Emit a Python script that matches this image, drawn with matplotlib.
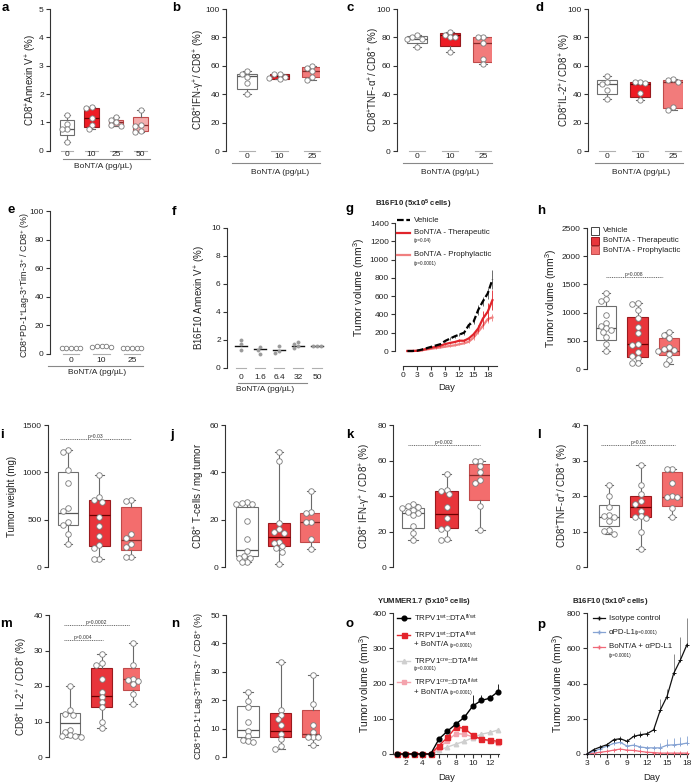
import numpy as np
import matplotlib
matplotlib.use('Agg')
import matplotlib.pyplot as plt
from matplotlib.lines import Line2D
from matplotlib.patches import Rectangle

W, H = 692, 782
plt.rcParams['font.family'] = ['Liberation Sans', 'DejaVu Sans']
plt.rcParams['mathtext.fontset'] = 'custom'
plt.rcParams['mathtext.rm'] = 'Liberation Sans'
plt.rcParams['mathtext.it'] = 'Liberation Sans:italic'
plt.rcParams['mathtext.bf'] = 'Liberation Sans:bold'
plt.rcParams['mathtext.default'] = 'regular'

# ---------------- DATA ----------------
bont_cats3 = ['0', '10', '25']
bont_cats_a = ['0', '10', '25', '50']
bont_cats_f = ['0', '1.6', '6.4', '32', '50']

a_q1 = [0.55, 0.85, 0.88, 0.68]
a_med = [0.75, 1.15, 1.0, 0.9]
a_q3 = [1.08, 1.5, 1.1, 1.18]
a_lo = [0.3, 0.75, 0.88, 0.65]
a_hi = [1.25, 1.55, 1.2, 1.42]
a_pts = [[1.25, 0.95, 0.78, 0.78, 0.3], [1.55, 1.52, 1.15, 0.9, 0.75],
         [1.2, 1.1, 1.0, 0.9, 0.88], [1.42, 0.92, 0.88, 0.68, 0.65]]

b_q1 = [44, 51, 52]
b_med = [53, 52.5, 56]
b_q3 = [54, 54, 59]
b_lo = [40, 51, 50]
b_hi = [56, 54.5, 60]
b_pts = [[56, 54.5, 52, 48, 40], [54.5, 54, 52, 51.5, 51], [60, 58.5, 56, 52, 50]]

c_q1 = [76, 74, 63]
c_med = [79, 82, 76]
c_q3 = [81, 83, 80]
c_lo = [73.5, 70, 61]
c_hi = [81.5, 84, 80.5]
c_pts = [[81.5, 80.5, 79, 79, 73.5], [84, 82, 80, 80, 70], [80.5, 80, 76, 65, 61]]

d_q1 = [40, 38, 30.2]
d_med = [47.5, 47.5, 48.7]
d_q3 = [50, 48.7, 50]
d_lo = [36.9, 35.8, 29.2]
d_hi = [52.7, 48.7, 50.5]
d_pts = [[52.7, 48.5, 47.5, 42.8, 36.9], [48.7, 48.5, 48.2, 40.5, 35.8],
         [50.5, 50.2, 48.7, 31.0, 29.2]]

e_pts = [[4.5, 4.5, 4.5, 4.5, 4.0], [5.0, 5.5, 5.5, 5.5, 5.0], [4.0, 4.0, 4.0, 4.0, 4.0]]

f_med = [1.6, 1.35, 1.3, 1.6, 1.6]
f_pts = [[2.0, 1.7, 1.3], [1.5, 1.3, 1.0], [1.6, 1.2, 1.1], [1.85, 1.7, 1.55, 1.4], [1.6, 1.6, 1.55]]

g_days = list(range(1, 20))
g_vehicle = [0, 0, 3, 15, 30, 45, 60, 75, 110, 135, 160, 180, 200, 284, 320, 450, 545, 629, 782]
g_vehicle_err = [0, 0, 2, 5, 6, 8, 10, 12, 15, 15, 18, 20, 22, 30, 30, 55, 50, 60, 100]
g_ther = [0, 0, 2, 10, 22, 35, 45, 58, 76, 88, 98, 113, 112, 138, 182, 247, 356, 429, 556]
g_ther_err = [0, 0, 2, 4, 5, 6, 8, 10, 12, 12, 14, 15, 15, 20, 25, 40, 80, 100, 110]
g_proph = [0, 0, 2, 8, 16, 24, 32, 38, 47, 55, 62, 74, 84, 102, 145, 211, 276, 349, 367]
g_proph_err = [0, 0, 1, 3, 4, 5, 6, 8, 8, 10, 10, 12, 12, 15, 20, 30, 40, 45, 40]

groups3 = ['Vehicle', 'BoNT/A - Therapeutic', 'BoNT/A - Prophylactic']
h_q1 = [520, 220, 250]
h_med = [720, 440, 320]
h_q3 = [1120, 920, 550]
h_lo = [320, 100, 85]
h_hi = [1340, 1170, 660]
h_pts = [[1340, 1250, 1200, 950, 820, 760, 730, 700, 650, 560, 450, 320],
         [1170, 1160, 1050, 900, 750, 630, 450, 430, 300, 230, 200, 100, 100],
         [660, 600, 550, 390, 360, 340, 320, 270, 160, 85]]

i_q1 = [440, 220, 180]
i_med = [570, 545, 285]
i_q3 = [1000, 710, 635]
i_lo = [245, 81, 105]
i_hi = [1240, 970, 710]
i_pts = [[1240, 1210, 1020, 890, 620, 590, 480, 440, 350, 245],
         [970, 740, 705, 690, 530, 430, 330, 230, 205, 88, 81],
         [710, 700, 350, 310, 240, 210, 105, 105]]

j_q1 = [4.5, 9.0, 10.5]
j_med = [7.0, 12.8, 19.0]
j_q3 = [25.5, 18.5, 23.0]
j_lo = [2.0, 1.3, 7.6]
j_hi = [27.5, 48.5, 32.3]
j_pts = [[27.5, 27.0, 26.5, 26.5, 19.5, 11.7, 6.6, 4.7, 4.0, 3.8, 2.2, 2.0],
         [48.5, 44.7, 18.7, 16.0, 14.9, 14.5, 10.7, 10.0, 9.0, 8.0, 6.5, 1.3],
         [32.3, 23.2, 23.0, 19.2, 19.0, 11.8, 7.6]]

k_q1 = [22, 22, 37.5]
k_med = [30.5, 30, 52]
k_q3 = [33.5, 43, 58]
k_lo = [15.4, 15.0, 21.0]
k_hi = [35.5, 52.6, 59.9]
k_pts = [[35.5, 34.5, 33.8, 33.5, 32.3, 31, 30.4, 29.5, 23, 19.2, 15.4],
         [52.6, 43.6, 43.0, 41.3, 33.6, 27.6, 21.8, 21.4, 15.8, 15.0],
         [59.9, 59.5, 56.7, 53.3, 49.2, 47.3, 34.2, 21.0]]

l_q1 = [11.5, 14.1, 17.2]
l_med = [14.2, 16.8, 19.7]
l_q3 = [17.5, 20.0, 26.7]
l_lo = [9.4, 5.1, 14.0]
l_hi = [23.2, 28.8, 27.7]
l_pts = [[23.2, 19.9, 16.8, 14.6, 14.3, 14.1, 12.9, 10.5, 10.2, 9.4],
         [28.8, 23.2, 20.7, 18.5, 17.8, 15.9, 14.4, 14.1, 13.8, 10.0, 5.1],
         [27.7, 27.6, 23.8, 19.9, 19.7, 19.6, 16.6, 14.0]]

m_q1 = [6.5, 14.2, 19.0]
m_med = [9.5, 17.2, 22.0]
m_q3 = [12.5, 25.0, 25.0]
m_lo = [5.6, 8.2, 15.0]
m_hi = [20.0, 28.9, 32.1]
m_pts = [[20, 13.1, 12.0, 11.9, 7.7, 7.0, 6.3, 5.9, 5.8, 5.6],
         [28.9, 26.6, 25.8, 21.9, 18.3, 16.9, 15.5, 14.1, 9.9, 8.2],
         [32.1, 26.0, 21.9, 21.8, 21.5, 20.5, 17.8, 15.0]]

n_q1 = [7.0, 7.0, 7.0]
n_med = [9.4, 9.3, 8.0]
n_q3 = [17.8, 15.5, 16.7]
n_lo = [5.3, 2.7, 4.1]
n_hi = [22.9, 33.3, 28.8]
n_pts = [[22.9, 19.6, 17.6, 12.4, 9.1, 7.4, 6.1, 5.5, 5.3],
         [33.3, 16.5, 14.7, 13.3, 11.4, 8.2, 6.2, 3.8, 2.7],
         [28.8, 18.6, 11.2, 8.8, 7.1, 7.0, 6.9, 4.1]]

o_days = list(range(1, 14))
o_wt = [0, 0, 0, 0, 0, 43, 65, 85, 104, 136, 152, 158, 177]
o_wt_err = [0, 0, 0, 0, 0, 5, 6, 6, 8, 30, 15, 10, 22]
o_wt_bont = [0, 0, 0, 0, 0, 24, 47, 76, 73, 53, 42, 39, 36]
o_wt_bont_err = [0, 0, 0, 0, 0, 4, 5, 6, 6, 6, 5, 4, 5]
o_cre = [0, 0, 0, 0, 0, 10, 20, 28, 36, 46, 56, 61, 68]
o_cre_err = [0, 0, 0, 0, 0, 3, 4, 5, 5, 6, 6, 6, 7]
o_cre_bont = [0, 0, 0, 0, 0, 18, 38, 58, 56, 49, 42, 36, 31]
o_cre_bont_err = [0, 0, 0, 0, 0, 3, 4, 5, 5, 5, 5, 4, 4]

p_days = list(range(3, 19))
p_iso = [0, 25, 40, 53, 81, 87, 72, 100, 109, 115, 137, 250, 326, 457, 533, 621]
p_iso_err = [0, 5, 8, 10, 12, 15, 15, 20, 20, 18, 15, 60, 40, 110, 130, 150]
p_pdl1 = [0, 15, 30, 45, 60, 66, 45, 50, 40, 35, 35, 35, 50, 52, 55, 62]
p_pdl1_err = [0, 5, 8, 10, 12, 12, 12, 12, 10, 10, 10, 30, 35, 40, 40, 40]
p_combo = [0, 5, 10, 15, 22, 28, 22, 20, 15, 10, 8, 5, 5, 5, 5, 5]
p_combo_err = [0, 2, 3, 4, 5, 5, 5, 5, 4, 3, 3, 3, 3, 3, 3, 3]

# ---------------- STYLE ----------------
WHITE = '#ffffff'
RED = '#ee1c25'
RED2 = '#e8353b'
LRED = '#f27b7b'
LRED2 = '#f36d6d'
PINK = '#f3a3a8'
PINK2 = '#f4adad'
EDGE_W = '#6e6e6e'
EDGE_R = '#9a1a1e'
EDGE_L = '#c04a4a'
LEG_FS = 5.7
TICK_FS = 6.0

fig = plt.figure(figsize=(W / 100, H / 100), dpi=100)


def ptext(x, y, s, **kw):
    kw.setdefault('color', '#222')
    return fig.text(x / W, 1 - y / H, s, **kw)


def pline(xs, ys, **kw):
    ln = Line2D(np.asarray(xs, float) / W, 1 - np.asarray(ys, float) / H, transform=fig.transFigure, **kw)
    fig.add_artist(ln)
    return ln


def add_ax(L, top, zero, R):
    ax = fig.add_axes([L / W, 1 - zero / H, (R - L) / W, (zero - top) / H])
    ax.patch.set_alpha(0)
    for sp in ['top', 'right']:
        ax.spines[sp].set_visible(False)
    ax.spines['left'].set_color('#333')
    ax.spines['left'].set_linewidth(0.8)
    ax.spines['bottom'].set_color('#333')
    ax.spines['bottom'].set_linewidth(0.8)
    ax.tick_params(axis='both', length=3, width=0.8, labelsize=TICK_FS, pad=1.5, colors='#333', labelcolor='#222')
    return ax


def swarm(vals, ppu_y, ppu_x, d):
    vals = np.asarray(vals, float)
    order = np.argsort(-vals, kind='stable')
    placed = []
    offs = np.zeros(len(vals))
    cands = [0.0]
    for j in range(1, 12):
        cands += [-0.5 * j, 0.5 * j]
    for i in order:
        y = vals[i] * ppu_y
        xsel = 0.0
        for c in cands:
            x = c * d
            if all((x - px) ** 2 + (y - py) ** 2 >= (0.9 * d) ** 2 for px, py in placed):
                xsel = x
                break
        placed.append((xsel, y))
        offs[i] = xsel / ppu_x
    return offs


def plot_points(ax, pts, ppu_y, s, ms=4.0, mfc='white', mec='#7a7a7a', dfac=0.95):
    for i, p in enumerate(pts):
        p = np.asarray(p, float)
        off = swarm(p, ppu_y, s, ms * 1.389 * dfac)
        ax.plot(i + off, p, ls='none', marker='o', ms=ms, mfc=mfc, mec=mec, mew=0.6,
                clip_on=False, zorder=5)


def box_panel(L, top, zero, R, c0, s, ymax, yticks, q1, med, q3, lo, hi, pts,
              faces, edges, meds, width=0.62, ms=4.0):
    ax = add_ax(L, top, zero, R)
    n = len(q1)
    stats = [dict(q1=q1[i], med=med[i], q3=q3[i], whislo=lo[i], whishi=hi[i], fliers=[]) for i in range(n)]
    bp = ax.bxp(stats, positions=list(range(n)), widths=width, patch_artist=True, showfliers=False,
                capwidths=width * 0.42, manage_ticks=False,
                whiskerprops=dict(color='#6a6a6a', lw=0.8), capprops=dict(color='#6a6a6a', lw=0.8),
                boxprops=dict(lw=0.8), medianprops=dict(lw=0.9))
    for i, b in enumerate(bp['boxes']):
        b.set_facecolor(faces[i])
        b.set_edgecolor(edges[i])
    for i, m in enumerate(bp['medians']):
        m.set_color(meds[i])
    ax.set_xlim(-(c0 - L) / s, (R - c0) / s)
    ax.set_ylim(0, ymax)
    ax.spines['bottom'].set_visible(False)
    ax.spines['left'].set_bounds(0, ymax)
    ax.set_xticks([])
    ax.set_yticks(yticks)
    plot_points(ax, pts, (zero - top) / ymax, s, ms=ms)
    return ax


def ylab(x, top, zero, s, fs=7):
    ptext(x, (top + zero) / 2, s, rotation=90, ha='center', va='center', fontsize=fs)


def cat_axis(ax, n, cats, c0, s, lab_y, br_x0, br_x1, br_y, title_x, title_y, seg=0.5):
    for i in range(n):
        ax.plot([i - seg / 2, i + seg / 2], [0, 0], color='#b0b0b0', lw=0.8, clip_on=False, zorder=1)
        ptext(c0 + i * s, lab_y, cats[i], ha='center', va='center', fontsize=6)
    pline([br_x0, br_x1], [br_y, br_y], color='#888', lw=0.8)
    ptext(title_x, title_y, 'BoNT/A (pg/µL)', ha='center', va='center', fontsize=6)


def sig(ax, x0, x1, y, txt):
    ax.plot([x0, x1], [y, y], color='#555', lw=0.6, ls=(0, (1.2, 1.0)), clip_on=False)
    ax.text((x0 + x1) / 2, y, txt, ha='center', va='bottom', fontsize=3.6, color='#333')


def letter(x, y, s):
    ptext(x, y, s, fontsize=9.5, fontweight='bold', ha='left', va='baseline', color='black')


# ---------------- ROW 1 ----------------
ax = box_panel(50, 9, 150.7, 150, 67, 24.5, 5, [0, 1, 2, 3, 4, 5], a_q1, a_med, a_q3, a_lo, a_hi, a_pts,
               [WHITE, RED, PINK, PINK2], [EDGE_W, EDGE_R, EDGE_L, EDGE_L], ['#555', '#6a0000', '#8a2a2a', '#8a2a2a'],
               width=0.6, ms=3.8)
cat_axis(ax, 4, bont_cats_a, 67, 24.5, 154, 63, 150, 158.5, 103, 167)
ylab(31, 9, 150.7, r'CD8$^{+}$Annexin V$^{+}$ (%)')
letter(2, 11, 'a')

ax = box_panel(226, 9, 151, 320, 247, 32.5, 100, [0, 20, 40, 60, 80, 100], b_q1, b_med, b_q3, b_lo, b_hi, b_pts,
               [WHITE, RED, LRED], [EDGE_W, EDGE_R, EDGE_L], ['#555', '#6a0000', '#8a2a2a'], width=0.6, ms=3.8)
cat_axis(ax, 3, bont_cats3, 247, 32.5, 157, 232, 320, 163, 280, 172)
ylab(199, 9, 151, r'CD8$^{+}$IFN-γ$^{+}$/ CD8$^{+}$ (%)')
letter(172, 11, 'b')

ax = box_panel(397, 9, 151, 492, 417, 33, 100, [0, 20, 40, 60, 80, 100], c_q1, c_med, c_q3, c_lo, c_hi, c_pts,
               [WHITE, RED, LRED], [EDGE_W, EDGE_R, EDGE_L], ['#555', '#6a0000', '#8a2a2a'], width=0.6, ms=3.8)
cat_axis(ax, 3, bont_cats3, 417, 33, 157, 403, 492, 163, 450, 172)
ylab(374, 9, 151, r'CD8$^{+}$TNF-α$^{+}$/ CD8$^{+}$ (%)')
letter(347, 11, 'c')

ax = box_panel(588, 9, 151, 683, 607, 33, 100, [0, 20, 40, 60, 80, 100], d_q1, d_med, d_q3, d_lo, d_hi, d_pts,
               [WHITE, RED, LRED], [EDGE_W, EDGE_R, EDGE_L], ['#555', '#6a0000', '#8a2a2a'], width=0.6, ms=3.8)
cat_axis(ax, 3, bont_cats3, 607, 33, 157, 595, 683, 163, 641, 172)
ylab(565, 9, 151, r'CD8$^{+}$IL-2$^{+}$/ CD8$^{+}$ (%)')
letter(536, 11, 'd')

# ---------------- ROW 2 ----------------
L, top, zero, R, c0, s = 50, 211, 354, 145, 71, 30.5
ax = add_ax(L, top, zero, R)
ax.set_xlim(-(c0 - L) / s, (R - c0) / s)
ax.set_ylim(0, 100)
ax.spines['bottom'].set_visible(False)
ax.set_xticks([])
ax.set_yticks([0, 20, 40, 60, 80, 100])
plot_points(ax, e_pts, (zero - top) / 100, s, ms=3.3, dfac=1.0)
cat_axis(ax, 3, bont_cats3, c0, s, 361, 48, 143, 365.5, 97, 372, seg=0.55)
ylab(25, top + 4, zero, r'CD8$^{+}$PD-1$^{+}$Lag-3$^{+}$Tim-3$^{+}$ / CD8$^{+}$ (%)', fs=6.4)
letter(7, 213, 'e')

L, top, zero, R, c0, s = 227, 228, 368, 325, 241, 19
ax = add_ax(L, top, zero, R)
ax.set_xlim(-(c0 - L) / s, (R - c0) / s)
ax.set_ylim(0, 10)
ax.spines['bottom'].set_visible(False)
ax.set_xticks([])
ax.set_yticks([0, 2, 4, 6, 8, 10])
for i, mv in enumerate(f_med):
    ax.plot([i - 0.33, i + 0.33], [mv, mv], color='#111', lw=1.0, zorder=4)
plot_points(ax, f_pts, (zero - top) / 10, s, ms=2.2, mfc='#9a9a9a', mec='#9a9a9a', dfac=1.2)
cat_axis(ax, 5, bont_cats_f, c0, s, 377.5, 238, 307, 383, 265, 389, seg=0.55)
ylab(200, top, zero, r'B16F10 Annexin V$^{+}$ (%)')
letter(172, 215, 'f')

# g
L, top, zero = 395, 223, 351
d0, ppd = 402.7, 85 / 18
xl0, xl1 = -(d0 - L) / ppd, 20.0
R = d0 + xl1 * ppd
ax = add_ax(L, top, zero, R)
ax.set_xlim(xl0, xl1)
ax.set_ylim(0, 1400)
ax.spines['left'].set_bounds(0, 1400)
ax.spines['bottom'].set_position(('outward', 15 / 1.389))
ax.spines['bottom'].set_bounds(0, 19.9)
ax.set_xticks([0, 3, 6, 9, 12, 15, 18])
ax.set_yticks(range(0, 1401, 200))
ax.errorbar(g_days, g_proph, yerr=[g_proph_err, g_proph_err], color='#f07f7f', lw=1.6, elinewidth=0.6,
            capsize=0, clip_on=False, zorder=3)
ax.errorbar(g_days, g_ther, yerr=[g_ther_err, g_ther_err], color='#e0242b', lw=1.6, elinewidth=0.6,
            capsize=0, clip_on=False, zorder=4)
ax.errorbar(g_days, g_vehicle, yerr=[g_vehicle_err, g_vehicle_err], color='black', lw=1.6, elinewidth=0.6,
            ecolor='#555', capsize=0, clip_on=False, zorder=5, ls=(0, (3.0, 1.2)))
ptext(447, 388, 'Day', ha='center', va='center', fontsize=6.8)
ylab(359, top, zero, r'Tumor volume (mm$^{3}$)', fs=7.5)
ptext(375, 204, r'B16F10 (5x10$^{\bf 5}$ cells)', ha='left', va='center', fontsize=5.6, fontweight='bold')
pline([397, 410], [220, 220], color='black', lw=1.6, ls=(0, (3.0, 1.2)))
ptext(414, 220, 'Vehicle', ha='left', va='center', fontsize=LEG_FS)
pline([397, 410], [233, 233], color='#e0242b', lw=1.6)
ptext(414, 233, 'BoNT/A - Therapeutic', ha='left', va='center', fontsize=LEG_FS)
ptext(414, 241, '(p=0.04)', ha='left', va='center', fontsize=3.4)
pline([397, 410], [255, 255], color='#f07f7f', lw=1.6)
ptext(414, 255, 'BoNT/A - Prophylactic', ha='left', va='center', fontsize=LEG_FS)
ptext(414, 263, '(p=0.0001)', ha='left', va='center', fontsize=3.4)
letter(346, 212, 'g')

# h
L, top, zero, R, c0, s = 587, 228, 369, 685, 606, 31.5
ax = box_panel(L, top, zero, R, c0, s, 2500, range(0, 2501, 500), h_q1, h_med, h_q3, h_lo, h_hi, h_pts,
               [WHITE, RED2, LRED2], [EDGE_W, EDGE_R, EDGE_L], ['#555', '#6a0000', '#8a2a2a'], width=0.66)
sig(ax, 0, 1.8, 1630, 'p=0.008')
ylab(551, top, zero, r'Tumor volume (mm$^{3}$)', fs=7.5)
for yy, col, ec, lab in zip([231, 240.5, 250], [WHITE, RED2, LRED2], ['#444', EDGE_R, EDGE_L], groups3):
    fig.add_artist(Rectangle((591 / W, 1 - (yy + 4) / H), 8 / W, 8 / H, transform=fig.transFigure,
                             facecolor=col, edgecolor=ec, lw=0.7))
    ptext(603, yy, lab, ha='left', va='center', fontsize=LEG_FS)
letter(537, 214, 'h')

# ---------------- ROW 3 ----------------
cols3 = [WHITE, RED2, LRED2]
edges3 = [EDGE_W, EDGE_R, EDGE_L]
meds3 = ['#555', '#6a0000', '#8a2a2a']

ax = box_panel(48, 425, 567, 145, 68, 31.5, 1500, [0, 500, 1000, 1500], i_q1, i_med, i_q3, i_lo, i_hi, i_pts,
               cols3, edges3, meds3, width=0.66)
sig(ax, -0.25, 2.0, 1350, 'p=0.03')
ylab(12, 425, 567, 'Tumor weight (mg)')
letter(0, 438, 'i')

ax = box_panel(225, 425, 567, 320, 247, 32, 60, [0, 20, 40, 60], j_q1, j_med, j_q3, j_lo, j_hi, j_pts,
               cols3, edges3, meds3, width=0.66)
ylab(199, 425, 567, r'CD8$^{+}$ T-cells / mg tumor')
letter(170, 438, 'j')

ax = box_panel(393, 425, 567, 490, 413, 33.5, 80, [0, 20, 40, 60, 80], k_q1, k_med, k_q3, k_lo, k_hi, k_pts,
               cols3, edges3, meds3, width=0.66)
sig(ax, -0.15, 2.0, 68.7, 'p=0.002')
ylab(365, 425, 567, r'CD8$^{+}$ IFN-γ$^{+}$ / CD8$^{+}$ (%)')
letter(346, 438, 'k')

ax = box_panel(587, 425, 567, 685, 609, 31.5, 40, [0, 10, 20, 30, 40], l_q1, l_med, l_q3, l_lo, l_hi, l_pts,
               cols3, edges3, meds3, width=0.66)
sig(ax, -0.25, 2.1, 34.4, 'p=0.03')
ylab(563, 425, 567, r'CD8$^{+}$TNF-α$^{+}$/ CD8$^{+}$ (%)')
letter(537, 438, 'l')

# ---------------- ROW 4 ----------------
ax = box_panel(49, 615, 757, 140, 70, 31.5, 40, [0, 10, 20, 30, 40], m_q1, m_med, m_q3, m_lo, m_hi, m_pts,
               cols3, edges3, meds3, width=0.66)
sig(ax, -0.2, 1.9, 37.2, 'p=0.0002')
sig(ax, -0.2, 1.05, 33.0, 'p=0.004')
ylab(22, 615, 757, r'CD8$^{+}$ IL-2$^{+}$ / CD8$^{+}$ (%)')
letter(0, 627, 'm')

ax = box_panel(226, 615, 757, 320, 248, 32.5, 50, [0, 10, 20, 30, 40, 50], n_q1, n_med, n_q3, n_lo, n_hi, n_pts,
               cols3, edges3, meds3, width=0.66)
ylab(199, 615, 757, r'CD8$^{+}$PD-1$^{+}$Lag-3$^{+}$Tim-3$^{+}$ / CD8$^{+}$ (%)', fs=6.5)
letter(171, 627, 'n')

# o
L, top, zero = 393, 613, 754
d1, ppd = 397, (498 - 397) / 12
xl0, xl1 = 1 - (d1 - L) / ppd, 13.15
R = d1 + (xl1 - 1) * ppd
ax = add_ax(L, top, zero, R)
ax.set_xlim(xl0, xl1)
ax.set_ylim(0, 400)
ax.set_xticks([2, 4, 6, 8, 10, 12])
ax.set_xticks(range(1, 14), minor=True)
ax.tick_params(which='minor', length=2, width=0.7, color='#333')
ax.set_yticks([0, 100, 200, 300, 400])
z13 = np.zeros(len(o_days))
series_o = [(o_cre, o_cre_err, '#cfcfcf', '^', 3.2),
            (o_cre_bont, o_cre_bont_err, '#f4a3ad', 's', 3.0),
            (o_wt_bont, o_wt_bont_err, '#e3242b', 's', 3.6),
            (o_wt, o_wt_err, 'black', 'o', 3.4)]
for k, (yv, ye, col, mk, msz) in enumerate(series_o):
    ax.errorbar(o_days, yv, yerr=[z13, ye], color=col, lw=1.0, marker=mk, ms=msz, mec=col, elinewidth=0.6,
                capsize=0, clip_on=False, zorder=3 + k)
ptext(447, 777, 'Day', ha='center', va='center', fontsize=6.8)
ylab(365, top, zero, r'Tumor volume (mm$^{3}$)', fs=7.5)
ptext(377, 602, r'YUMMER1.7 (5x10$^{\bf 5}$ cells)', ha='left', va='center', fontsize=5.6, fontweight='bold')
leg_o = [(618, 'black', 'o', 3.4, r'TRPV1$^{wt}$::DTA$^{fl/wt}$', None, None),
         (635, '#e3242b', 's', 3.6, r'TRPV1$^{wt}$::DTA$^{fl/wt}$', '+ BoNT/A', '(p=0.0001)'),
         (661, '#cfcfcf', '^', 3.2, r'TRPV1$^{cre}$::DTA$^{fl/wt}$', '', '(p=0.0001)'),
         (682, '#f4a3ad', 's', 3.0, r'TRPV1$^{cre}$::DTA$^{fl/wt}$', '+ BoNT/A', '(p=0.0001)')]
for yy, col, mk, msz, lab, l2, pv in leg_o:
    pline([397, 403.5, 410], [yy, yy, yy], color=col, lw=1.0, marker=mk, ms=msz, markevery=[1], mec=col)
    ptext(414, yy, lab, ha='left', va='center', fontsize=LEG_FS)
    if l2:
        ptext(414, yy + 10, l2, ha='left', va='center', fontsize=LEG_FS)
        ptext(449.5, yy + 10.5, pv, ha='left', va='center', fontsize=3.4)
    elif pv:
        ptext(414, yy + 7.5, pv, ha='left', va='center', fontsize=3.4)
letter(346, 627, 'o')

# p
L, top, zero = 587, 613, 754
d3, ppd = 587, (687 - 587) / 15
xl0, xl1 = 3, 18.1
R = d3 + (xl1 - 3) * ppd
ax = add_ax(L, top, zero, R)
ax.set_xlim(xl0, xl1)
ax.set_ylim(0, 800)
ax.set_xticks([3, 6, 9, 12, 15, 18])
ax.set_xticks(range(3, 19), minor=True)
ax.tick_params(which='minor', length=2, width=0.7, color='#333')
ax.set_yticks([0, 200, 400, 600, 800])
z16 = np.zeros(len(p_days))
series_p = [(p_combo, p_combo_err, '#f06878'), (p_pdl1, p_pdl1_err, '#86a3d3'), (p_iso, p_iso_err, '#111111')]
for k, (yv, ye, col) in enumerate(series_p):
    ax.errorbar(p_days, yv, yerr=[z16, ye], color=col, lw=0.9, marker='+', ms=3, mew=0.7, elinewidth=0.6,
                ecolor=col if k < 2 else '#777', capsize=0, clip_on=False, zorder=3 + k)
ptext(652, 777, 'Day', ha='center', va='center', fontsize=6.8)
ylab(558, top, zero, r'Tumor volume (mm$^{3}$)', fs=7.5)
ptext(572, 602, r'B16F10 (5x10$^{\bf 5}$ cells)', ha='left', va='center', fontsize=5.6, fontweight='bold')
pline([593, 599, 605], [618, 618, 618], color='#111', lw=0.9, marker='+', ms=3, markevery=[1])
ptext(609, 618, 'Isotype control', ha='left', va='center', fontsize=LEG_FS)
pline([593, 599, 605], [632, 632, 632], color='#86a3d3', lw=0.9, marker='+', ms=3, markevery=[1])
ptext(609, 632, 'αPD-L1', ha='left', va='center', fontsize=LEG_FS)
ptext(635, 632.5, '(p=0.0001)', ha='left', va='center', fontsize=3.4)
pline([593, 599, 605], [647, 647, 647], color='#f06878', lw=0.9, marker='+', ms=3, markevery=[1])
ptext(609, 647, 'BoNT/A + αPD-L1', ha='left', va='center', fontsize=LEG_FS)
ptext(609, 655, '(p=0.0001)', ha='left', va='center', fontsize=3.4)
letter(537, 628, 'p')

fig.savefig('out.png', dpi=100)
